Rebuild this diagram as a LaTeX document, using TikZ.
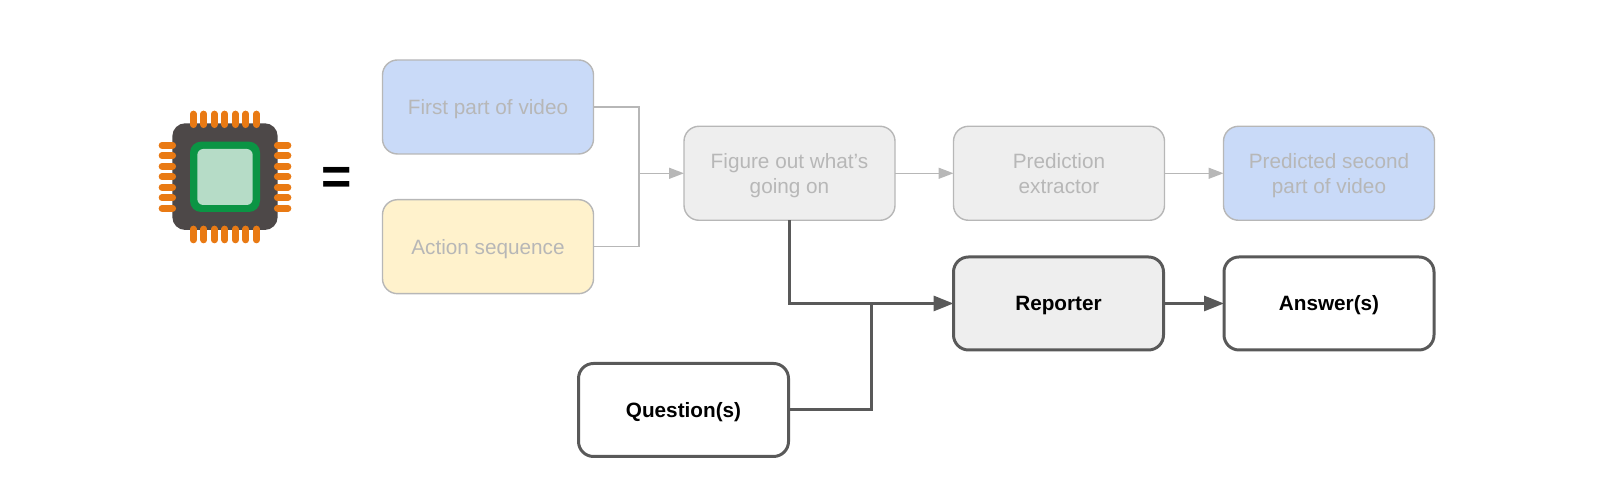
\documentclass[tikz,border=0pt]{standalone}
\usepackage{xcolor}
\usepackage{fontspec}
\setmainfont{Liberation Sans}
\usetikzlibrary{arrows.meta}
\definecolor{vidblue}{HTML}{c9daf8}
\definecolor{actyellow}{HTML}{fff2cc}
\definecolor{boxgray}{HTML}{eeeeee}
\definecolor{fadegray}{HTML}{b7b7b7}
\definecolor{darkgray}{HTML}{595959}
\definecolor{chipbody}{HTML}{4d4848}
\definecolor{chipgreen}{HTML}{0b9444}
\definecolor{chipcore}{HTML}{b6dcc7}
\definecolor{chippin}{HTML}{e97a14}
\tikzset{
  basebox/.style={rectangle,rounded corners=0.15cm,outer sep=0pt,inner sep=0pt,align=center,text depth=0pt},
  fadebox/.style={basebox,draw=fadegray,line width=0.4pt,text=fadegray,minimum width=2.11cm,minimum height=0.94cm,font=\fontsize{5.9pt}{7.25pt}\selectfont},
  darkbox/.style={basebox,draw=darkgray,line width=0.85pt,text=black,minimum width=2.10cm,minimum height=0.93cm,font=\fontsize{5.9pt}{7.25pt}\selectfont\bfseries},
  fadeline/.style={draw=fadegray,line width=0.4pt},
  darkline/.style={draw=darkgray,line width=0.85pt},
  fadearrow/.style={fadeline,-{Triangle[length=0.15cm,width=0.11cm]}},
  darkarrow/.style={darkline,-{Triangle[length=0.2cm,width=0.15cm]}},
  pinline/.style={draw=chippin,line width=0.067cm,line cap=round}
}
\begin{document}
\begin{tikzpicture}[x=1cm,y=1cm]
  \useasboundingbox (0,0) rectangle (16.14,4.95);
  % chip
  \fill[chipbody,rounded corners=0.13cm] (1.723,3.717) rectangle (2.777,2.65);
  \fill[chipgreen,rounded corners=0.11cm] (1.90,3.533) rectangle (2.60,2.83);
  \fill[chipcore,rounded corners=0.06cm] (1.973,3.46) rectangle (2.527,2.90);
  \foreach \i in {0,...,6} {
    \draw[pinline] ({1.933+0.105*\i},3.81) -- ({1.933+0.105*\i},3.703);
    \draw[pinline] ({1.933+0.105*\i},2.66) -- ({1.933+0.105*\i},2.55);
    \draw[pinline] (1.62,{3.497-0.105*\i}) -- (1.727,{3.497-0.105*\i});
    \draw[pinline] (2.773,{3.497-0.105*\i}) -- (2.88,{3.497-0.105*\i});
  }
  \node (equals) at (3.37,3.14) {\fontsize{14.8pt}{14.8pt}\selectfont\bfseries =};
  % boxes
  \node[fadebox,fill=vidblue] (first) at (4.88,3.88) {First part of video};
  \node[fadebox,fill=actyellow] (action) at (4.88,2.483) {Action sequence};
  \node[fadebox,fill=boxgray] (figure) at (7.895,3.217) {Figure out what's\\going on};
  \node[fadebox,fill=boxgray] (extractor) at (10.59,3.217) {Prediction\\extractor};
  \node[fadebox,fill=vidblue] (predicted) at (13.29,3.217) {Predicted second\\part of video};
  \node[darkbox,fill=boxgray] (reporter) at (10.585,1.915) {Reporter};
  \node[darkbox,fill=white] (answer) at (13.29,1.915) {Answer(s)};
  \node[darkbox,fill=white] (question) at (6.835,0.85) {Question(s)};
  % connectors
  \coordinate (fadejoin) at (6.39,3.217);
  \coordinate (darkjoin) at (8.71,1.915);
  \draw[fadeline] (first.east) -| (fadejoin);
  \draw[fadeline] (action.east) -| (fadejoin);
  \draw[fadearrow] (fadejoin) -- (figure.west);
  \draw[fadearrow] (figure.east) -- (extractor.west);
  \draw[fadearrow] (extractor.east) -- (predicted.west);
  \draw[darkarrow] (figure.south) |- (reporter.west);
  \draw[darkline] (question.east) -| (darkjoin);
  \draw[darkarrow] (reporter.east) -- (answer.west);
\end{tikzpicture}
\end{document}
